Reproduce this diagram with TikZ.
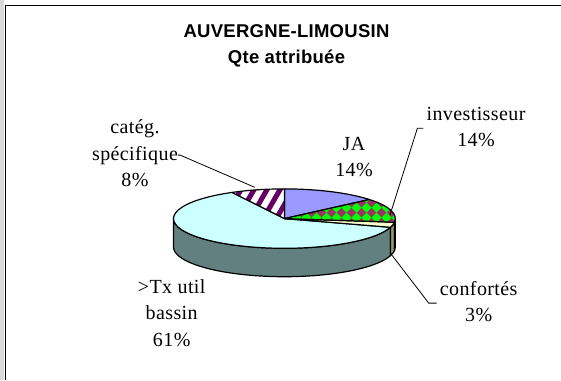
\documentclass[tikz,border=0pt]{standalone}
\usepackage{fontspec}
\setmainfont{Liberation Serif}
\newfontfamily\labfont[LetterSpace=2]{Liberation Serif}
\newfontfamily\titfont[LetterSpace=1.5]{Liberation Sans}
\definecolor{jaC}{RGB}{153,153,255}
\definecolor{txC}{RGB}{204,255,255}
\definecolor{txS}{RGB}{98,128,128}
\definecolor{coC}{RGB}{255,255,204}
\definecolor{coS}{RGB}{153,153,110}
\definecolor{inM}{RGB}{153,51,102}
\definecolor{inS}{RGB}{70,25,50}
\definecolor{inG}{RGB}{0,255,0}
\definecolor{caP}{RGB}{102,0,102}
\begin{document}
\begin{tikzpicture}[x=1pt,y=-1pt,
  lab/.style={font={\labfont\fontsize{20}{26.5}\selectfont}, align=center, inner sep=0pt},
  titl/.style={font={\titfont\bfseries\fontsize{18.5}{26}\selectfont}, align=center, inner sep=0pt},
  edge/.style={draw=black, line width=1.2pt, line join=round},
  leader/.style={draw=black, line width=0.8pt}]
\useasboundingbox (0,0) rectangle (561,380);
\fill[white] (0,0) rectangle (561,380);
\fill[gray!30] (0,0) rectangle (3.5,380);
\draw[line width=1.5pt] (5.5,380) -- (5.5,5.5) -- (561,5.5);

% title
\node[titl] (title) at (286.5,45.1) {\strut AUVERGNE-LIMOUSIN\\\strut Qte attribuée};

% pie
\begin{scope}[shift={(284.4,218.6)}, x=1pt, y=1pt]
  \def\RX{110.9}\def\RY{29.7}\def\DD{28.4}
  % side walls
  \path[fill=txS, edge] ({\RX*cos(180)},{\RY*sin(180)}) arc[start angle=180, end angle=343, x radius=110.9pt, y radius=29.7pt]
     -- ++(0,-\DD) arc[start angle=343, end angle=180, x radius=110.9pt, y radius=29.7pt] -- cycle;
  \path[fill=coS, edge] ({\RX*cos(343)},{\RY*sin(343)}) arc[start angle=343, end angle=353, x radius=110.9pt, y radius=29.7pt]
     -- ++(0,-\DD) arc[start angle=353, end angle=343, x radius=110.9pt, y radius=29.7pt] -- cycle;
  \path[fill=inS, edge] ({\RX*cos(353)},{\RY*sin(353)}) arc[start angle=353, end angle=360, x radius=110.9pt, y radius=29.7pt]
     -- ++(0,-\DD) arc[start angle=360, end angle=353, x radius=110.9pt, y radius=29.7pt] -- cycle;
  % top: Tx util bassin
  \path[fill=txC, edge] (0,0) -- ({\RX*cos(-17)},{\RY*sin(-17)}) arc[start angle=-17, end angle=-241.8, x radius=110.9pt, y radius=29.7pt] -- cycle;
  % top: confortes
  \path[fill=coC, edge] (0,0) -- ({\RX*cos(-7)},{\RY*sin(-7)}) arc[start angle=-7, end angle=-17, x radius=110.9pt, y radius=29.7pt] -- cycle;
  % top: JA
  \path[fill=jaC, edge] (0,0) -- ({\RX*cos(90)},{\RY*sin(90)}) arc[start angle=90, end angle=40, x radius=110.9pt, y radius=29.7pt] -- cycle;
  % top: investisseur (diamond pattern)
  \begin{scope}
    \clip (0,0) -- ({\RX*cos(40)},{\RY*sin(40)}) arc[start angle=40, end angle=-7, x radius=110.9pt, y radius=29.7pt] -- cycle;
    \fill[inM] (-5,-40) rectangle (120,40);
    \foreach \m in {0,...,12}{\foreach \n in {-4,...,4}{
      \fill[inG] ({\m*10-5+2},{\n*10+1}) -- ++(5,5) -- ++(5,-5) -- ++(-5,-5) -- cycle;}}
  \end{scope}
  \path[edge] (0,0) -- ({\RX*cos(40)},{\RY*sin(40)}) arc[start angle=40, end angle=-7, x radius=110.9pt, y radius=29.7pt] -- cycle;
  % top: categ specifique (stripes)
  \begin{scope}
    \clip (0,0) -- ({\RX*cos(118.2)},{\RY*sin(118.2)}) arc[start angle=118.2, end angle=90, x radius=110.9pt, y radius=29.7pt] -- cycle;
    \fill[white] (-60,-5) rectangle (5,40);
    \foreach \k in {-8,...,3}{\draw[caP, line width=5pt] ({\k*13+2},-5) -- ++(60:60);}
  \end{scope}
  \path[edge] (0,0) -- ({\RX*cos(118.2)},{\RY*sin(118.2)}) arc[start angle=118.2, end angle=90, x radius=110.9pt, y radius=29.7pt] -- cycle;
\end{scope}

% labels
\node[lab] (lblCat) at (135,155.1) {\strut catég.\\\strut spécifique\\\strut 8\%};
\node[lab] (lblJA) at (354,158.4) {\strut JA\\\strut 14\%};
\node[lab] (lblInv) at (476,128.2) {\strut investisseur\\\strut 14\%};
\node[lab] (lblConf) at (478.7,303.1) {\strut confortés\\\strut 3\%};
\node[lab] (lblTx) at (171.7,314.4) {\strut >Tx util\\\strut bassin\\\strut 61\%};

% leader lines
\coordinate (catEnd) at (254.7,187.3);
\coordinate (invEnd) at (390,215);
\coordinate (confStart) at (391.8,255);
\draw[leader] (lblCat.east) -- ([xshift=2pt]lblCat.east) -- (catEnd);
\draw[leader] ([xshift=-3pt]lblInv.west) -- ([xshift=-9pt]lblInv.west) -- (invEnd);
\draw[leader] (confStart) -- ([xshift=-11pt]lblConf.west) -- ([xshift=-3pt]lblConf.west);
\end{tikzpicture}
\end{document}
